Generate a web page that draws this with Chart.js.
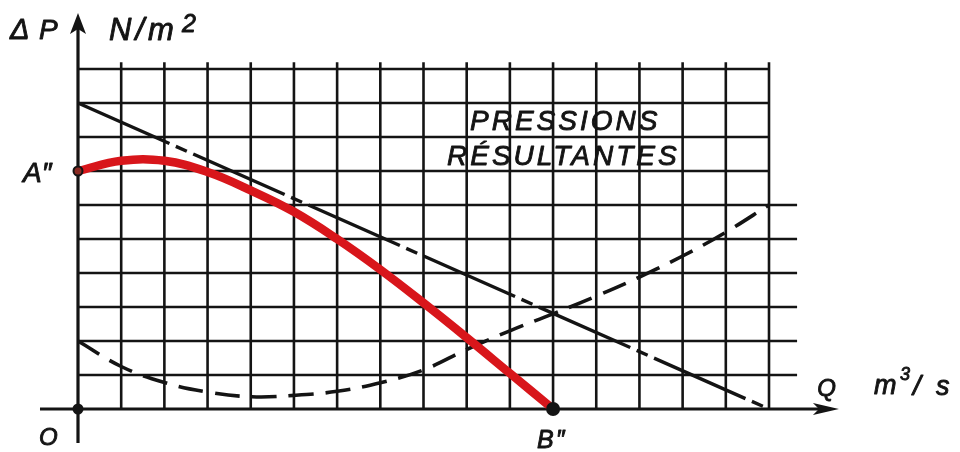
<!DOCTYPE html>
<html>
<head>
<meta charset="utf-8">
<script src="https://cdn.jsdelivr.net/npm/chart.js@4/dist/chart.umd.min.js"></script>
<style>
  html, body { margin: 0; background: #fff; }
  canvas { display: block; }
</style>
</head>
<body>
<canvas id="pressureChart" width="960" height="452"></canvas>
<script>
// grid divisions: Q along x, ΔP along y
const gridQ = [0, 1, 2, 3, 4, 5, 6, 7, 8, 9, 10, 11, 12, 13, 14, 15, 16];
const gridP = [0, 1, 2, 3, 4, 5, 6, 7, 8, 9, 10];
const longRowsP = [1, 2, 3, 4, 5, 6];   // rows drawn past the last column

// fan characteristic (straight line)
const fanQ = [0, 16];
const fanP = [9, 0];

// circuit losses (dashed curve)
const lossQ = [0, 1, 2, 3, 4, 5, 6, 7, 8, 9, 10, 11, 12, 13, 14, 15, 16];
const lossP = [2.0, 1.25, 0.78, 0.5, 0.36, 0.4, 0.52, 0.77, 1.15, 1.75, 2.3, 2.8, 3.32, 3.88, 4.5, 5.2, 6.0];

// resulting pressure A'' -> B''
const resultQ = [0, 1, 2, 3, 4, 5, 6, 7, 8, 9, 10, 11];
const resultP = [7.0, 7.3, 7.3, 6.97, 6.43, 5.8, 5.0, 4.1, 3.12, 2.1, 1.05, 0];

// named points
const markNames = ['O', 'A\u2033', 'B\u2033'];
const markQ = [0, 0, 11];
const markP = [0, 7, 0];

const ink = '#141414';
const toPts = (xs, ys) => xs.map((q, i) => ({ x: q, y: ys[i] }));

const drawing = {
  id: 'drawing',
  beforeDatasetsDraw(chart) {
    const { ctx, scales: { x, y } } = chart;
    ctx.save();
    ctx.strokeStyle = ink;
    ctx.lineWidth = 2.6;
    ctx.lineCap = 'butt';
    // vertical grid lines
    gridQ.slice(1).forEach(q => {
      ctx.beginPath();
      ctx.moveTo(x.getPixelForValue(q), y.getPixelForValue(10.2));
      ctx.lineTo(x.getPixelForValue(q), y.getPixelForValue(0));
      ctx.stroke();
    });
    // horizontal grid lines
    gridP.slice(1).forEach(p => {
      const end = longRowsP.includes(p) ? 16.65 : 16;
      ctx.beginPath();
      ctx.moveTo(x.getPixelForValue(0), y.getPixelForValue(p));
      ctx.lineTo(x.getPixelForValue(end), y.getPixelForValue(p));
      ctx.stroke();
    });
    // axes with arrows
    ctx.lineWidth = 3.2;
    const x0 = x.getPixelForValue(0), y0 = y.getPixelForValue(0);
    const yTop = y.getPixelForValue(11.65), xEnd = x.getPixelForValue(17.62);
    ctx.beginPath();
    ctx.moveTo(x0, y.getPixelForValue(-1));
    ctx.lineTo(x0, yTop + 10);
    ctx.moveTo(x.getPixelForValue(-0.88), y0);
    ctx.lineTo(xEnd - 12, y0);
    ctx.stroke();
    ctx.fillStyle = ink;
    ctx.beginPath();
    ctx.moveTo(x0, yTop);
    ctx.lineTo(x0 - 8, yTop + 21);
    ctx.lineTo(x0, yTop + 16);
    ctx.lineTo(x0 + 8, yTop + 21);
    ctx.closePath();
    ctx.fill();
    ctx.beginPath();
    ctx.moveTo(xEnd, y0);
    ctx.lineTo(xEnd - 26, y0 - 6);
    ctx.lineTo(xEnd - 20, y0);
    ctx.lineTo(xEnd - 26, y0 + 6);
    ctx.closePath();
    ctx.fill();
    ctx.restore();
  },
  afterDatasetsDraw(chart) {
    const { ctx, scales: { x, y } } = chart;
    const put = (txt, px, py, size, spacing = 0) => {
      ctx.font = `italic ${size}px 'Liberation Sans', Arial, sans-serif`;
      ctx.letterSpacing = spacing + 'px';
      ctx.fillText(txt, px, py);
      ctx.strokeText(txt, px, py);
    };
    ctx.save();
    ctx.fillStyle = ink;
    ctx.strokeStyle = ink;
    ctx.lineWidth = 0.9;
    ctx.lineJoin = 'round';
    ctx.textBaseline = 'alphabetic';
    ctx.textAlign = 'left';
    const x0 = x.getPixelForValue(0);
    const y0 = y.getPixelForValue(0);

    // axis titles
    put('\u0394', 10, 39, 29);
    put('P', 39, 39, 28);
    put('N/m', 109, 40, 31, 4);
    put('2', 182, 32, 25);

    put('Q', x.getPixelForValue(17.12), y0 - 13, 24);
    put('m', 874, y0 - 15, 27);
    put('3', 900, y0 - 29, 18);
    put('/', 913, y0 - 14, 28);
    put('s', 936, y0 - 14, 27);

    // point names
    put(markNames[0], x0 - 39, y0 + 36, 24);
    put(markNames[1], x0 - 55, y.getPixelForValue(markP[1]) + 11, 28);
    put(markNames[2], x.getPixelForValue(markQ[2]) - 16, y0 + 39, 25, 2);

    // note inside the grid
    put('PRESSIONS', 470, 130, 28, 3);
    put('R\u00c9SULTANTES', 447, 165, 28, 3);
    ctx.restore();
  }
};

new Chart(document.getElementById('pressureChart'), {
  type: 'line',
  data: {
    datasets: [
      {
        type: 'scatter',
        data: toPts(markQ, markP),
        pointRadius: [5.5, 4.5, 7],
        pointBackgroundColor: [ink, '#8a2a22', ink],
        pointBorderColor: ink,
        pointBorderWidth: [0, 2, 0],
        showLine: false,
        clip: false
      },
      {
        data: toPts(resultQ, resultP),
        borderColor: '#d8161b',
        borderWidth: 8.5,
        borderCapStyle: 'round',
        tension: 0.4,
        pointRadius: 0,
        clip: false
      },
      {
        data: toPts(fanQ, fanP),
        borderColor: ink,
        borderWidth: 3.4,
        borderDash: [100, 7, 12, 7],
        pointRadius: 0,
        clip: false
      },
      {
        data: toPts(lossQ, lossP),
        borderColor: ink,
        borderWidth: 3.6,
        borderDash: [25, 12],
        tension: 0.4,
        pointRadius: 0,
        clip: false
      }
    ]
  },
  options: {
    responsive: false,
    animation: false,
    layout: { padding: { left: 78, right: 191, top: 69, bottom: 43 } },
    scales: {
      x: { type: 'linear', min: 0, max: 16, display: false },
      y: { type: 'linear', min: 0, max: 10, display: false }
    },
    plugins: {
      legend: { display: false },
      tooltip: { enabled: false }
    }
  },
  plugins: [drawing]
});
</script>
</body>
</html>
